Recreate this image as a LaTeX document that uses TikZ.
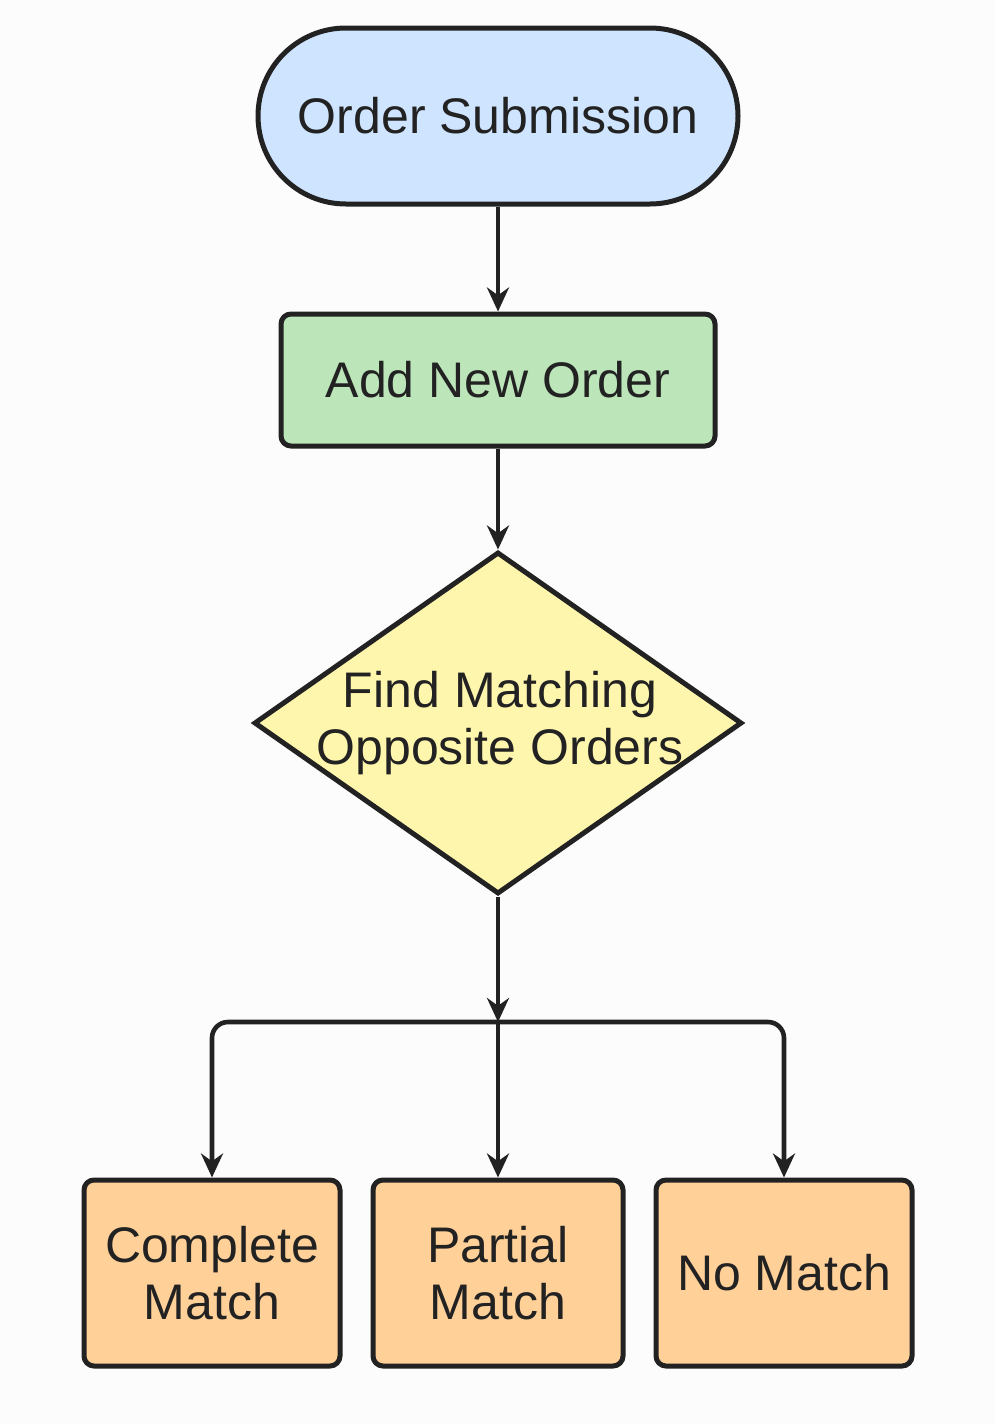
\documentclass[tikz,border=0pt]{standalone}
\usepackage{fontspec}
\setmainfont{Liberation Sans}
\usetikzlibrary{shapes.geometric,arrows.meta}

\definecolor{bgcol}{HTML}{FCFCFC}
\definecolor{inkcol}{HTML}{222222}
\definecolor{startcol}{HTML}{CFE4FE}
\definecolor{stepcol}{HTML}{BDE5BA}
\definecolor{decidecol}{HTML}{FFF6AE}
\definecolor{resultcol}{HTML}{FFD199}

\begin{document}
\begin{tikzpicture}[x=0.5pt,y=-0.5pt,
        every node/.style={text=inkcol,font=\fontsize{25}{28.5}\selectfont},
        box/.style={draw=inkcol,line width=2.5pt,align=center},
        startbox/.style={box,fill=startcol,rounded corners=44pt,minimum width=240pt,minimum height=88pt},
        stepbox/.style={box,fill=stepcol,rounded corners=5pt,minimum width=217pt,minimum height=66pt},
        decidebox/.style={box,fill=decidecol,diamond,inner sep=0pt,minimum width=244pt,minimum height=171pt,aspect=1.43},
        resultbox/.style={box,fill=resultcol,rounded corners=5pt,minimum height=93pt},
        flow/.style={draw=inkcol,line width=2.3pt,-{Stealth[length=12pt,width=11pt]}}]
        \fill[bgcol] (0,0) rectangle (995,1424);

        \node[startbox](sub) at (498, 116) {Order Submission};
        \node[stepbox](add) at (498, 380) {Add New Order};
        \node[decidebox](find) at (498, 723) {};
        \node[align=center] at ([xshift=1pt]find.center) {Find Matching\\Opposite Orders};
        \node[resultbox,minimum width=128pt](comp) at (212, 1273) {Complete\\Match};
        \node[resultbox,minimum width=125pt](part) at (498, 1273) {Partial\\Match};
        \node[resultbox,minimum width=128pt](nomatch) at (784, 1273) {No Match};
        \coordinate (split) at (498, 1022);

        \draw[flow] (sub) -- (add);
        \draw[flow] (add) -- (find);
        \draw[flow] (find) -- (split);
        \draw[flow,rounded corners=8pt] (split) -| (comp.north);
        \draw[flow] (split) -- (part);
        \draw[flow,rounded corners=8pt] (split) -| (nomatch.north);
    \end{tikzpicture}
\end{document}
